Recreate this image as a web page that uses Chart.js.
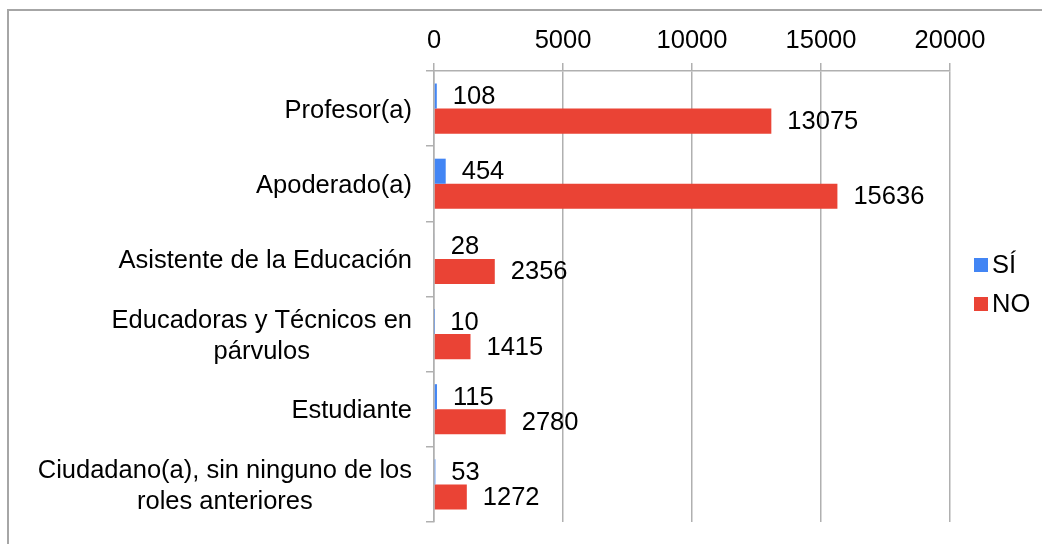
<!DOCTYPE html>
<html>
<head>
<meta charset="utf-8">
<script src="https://cdn.jsdelivr.net/npm/chart.js@4.4.1/dist/chart.umd.min.js"></script>
<style>
  html, body { margin: 0; padding: 0; background: #fff; }
  #wrap { position: relative; width: 1042px; height: 544px; }
</style>
</head>
<body>
<div id="wrap"><canvas id="roles"></canvas></div>
<script>
const categories = [
  ['Profesor(a)'],
  ['Apoderado(a)'],
  ['Asistente de la Educación'],
  ['Educadoras y Técnicos en', 'párvulos'],
  ['Estudiante'],
  ['Ciudadano(a), sin ninguno de los', 'roles anteriores']
];
const seriesNames = ['SÍ', 'NO'];
const siValues = [108, 454, 28, 10, 115, 53];
const noValues = [13075, 15636, 2356, 1415, 2780, 1272];
const xTicks = [0, 5000, 10000, 15000, 20000];

const FONT = "'Liberation Sans', Arial, sans-serif";
const FONT_SIZE = 25.5;
const BLUE = '#4285f4';
const RED = '#ea4335';
const GRID = '#b0b0b0';

// frame, category labels, value labels and legend are drawn by hand
const decorations = {
  id: 'decorations',
  beforeDraw(chart) {
    const { ctx } = chart;
    ctx.save();
    ctx.strokeStyle = '#a6a6a6';
    ctx.lineWidth = 2;
    ctx.strokeRect(8, 10, 1200, 700);
    ctx.restore();
  },
  afterDraw(chart) {
    const { ctx } = chart;
    const yScale = chart.scales.y;
    ctx.save();
    ctx.font = `${FONT_SIZE}px ${FONT}`;
    ctx.fillStyle = '#000';
    ctx.textBaseline = 'middle';

    // category labels: block right aligned, lines centred inside the block
    ctx.textAlign = 'center';
    const lineHeight = 31;
    categories.forEach((lines, i) => {
      const y = yScale.getPixelForValue(i);
      const blockWidth = Math.max(...lines.map((l) => ctx.measureText(l).width));
      const cx = chart.chartArea.left - 22 - blockWidth / 2;
      lines.forEach((line, j) => {
        ctx.fillText(line, cx, y + (j - (lines.length - 1) / 2) * lineHeight + 2);
      });
    });

    // value labels at bar ends
    ctx.textAlign = 'left';
    chart.data.datasets.forEach((ds, di) => {
      chart.getDatasetMeta(di).data.forEach((bar, i) => {
        ctx.fillText(String(ds.data[i]), bar.x + 16, bar.y + 1);
      });
    });

    // legend
    const legendY = [265, 304];
    chart.data.datasets.forEach((ds, di) => {
      ctx.fillStyle = ds.backgroundColor;
      ctx.fillRect(974, legendY[di] - 7, 14, 14);
      ctx.fillStyle = '#000';
      ctx.fillText(ds.label, 992, legendY[di] + 1);
    });
    ctx.restore();
  }
};

// eslint-disable-next-line no-new
new Chart(document.getElementById('roles'), {
  type: 'bar',
  data: {
    labels: categories,
    datasets: [{
      label: seriesNames[0],
      data: siValues,
      backgroundColor: BLUE
    }, {
      label: seriesNames[1],
      data: noValues,
      backgroundColor: RED
    }]
  },
  options: {
    indexAxis: 'y',
    responsive: true,
    maintainAspectRatio: false,
    animation: false,
    events: [],
    datasets: {
      bar: { categoryPercentage: 0.667, barPercentage: 1 }
    },
    layout: {
      padding: { top: 0, left: 0, right: 92, bottom: 22 }
    },
    plugins: {
      legend: { display: false },
      tooltip: { enabled: false }
    },
    scales: {
      x: {
        position: 'top',
        min: 0,
        max: 20000,
        afterBuildTicks: (scale) => {
          scale.ticks = xTicks.map((v) => ({ value: v }));
        },
        afterFit: (scale) => {
          scale.height = 71;
        },
        grid: { color: GRID, lineWidth: 1.5, tickLength: 8 },
        border: { color: GRID, width: 1.5 },
        ticks: {
          padding: 7,
          color: '#000',
          font: { family: FONT, size: FONT_SIZE },
          callback: (value) => String(value)
        }
      },
      y: {
        afterFit: (scale) => {
          scale.width = 434;
        },
        grid: { drawOnChartArea: false, color: GRID, lineWidth: 1.5, tickLength: 8 },
        border: { color: GRID, width: 1.5 },
        ticks: { display: false }
      }
    }
  },
  plugins: [decorations]
});
</script>
</body>
</html>
